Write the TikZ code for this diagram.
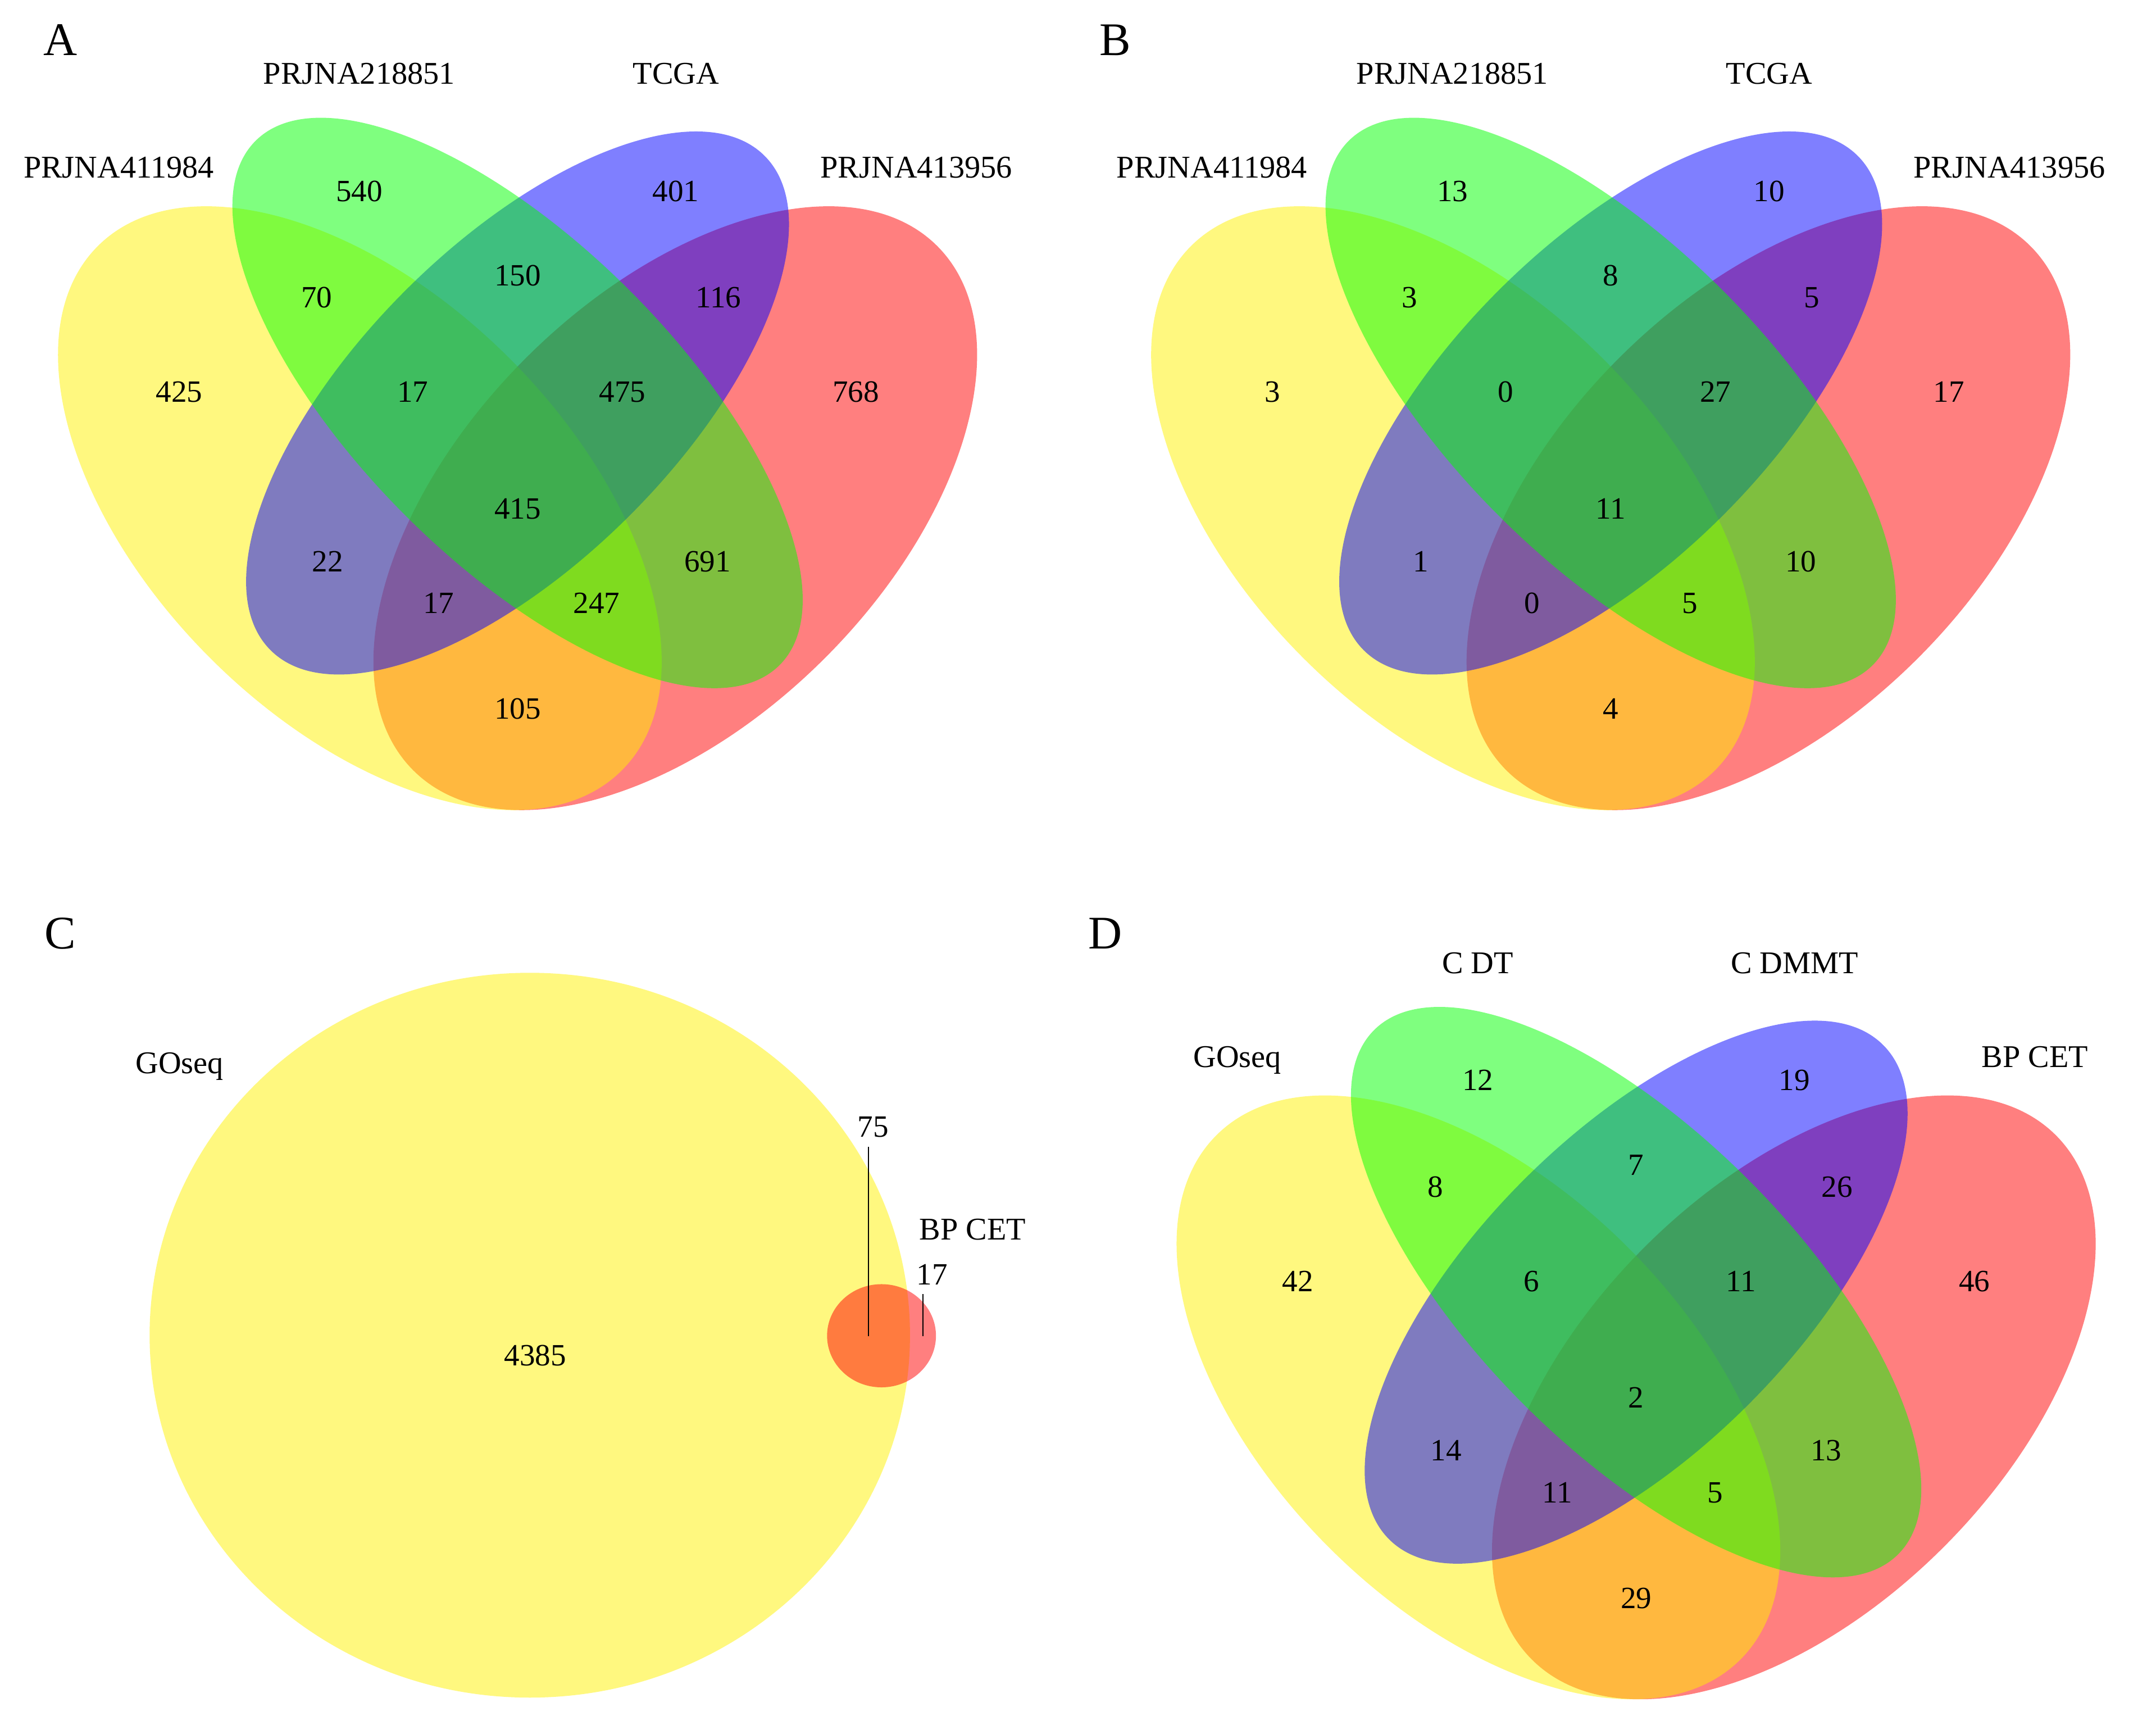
\documentclass[tikz,border=0pt]{standalone}
\usepackage{fontspec}
\setmainfont{Liberation Serif}
\tikzset{
  num/.style={font=\fontsize{22.5}{27}\selectfont, inner sep=0pt, text height=15.2pt, text depth=0pt},
  cat/.style={font=\fontsize{23}{28}\selectfont, inner sep=0pt, text height=15.2pt, text depth=0pt},
  panel/.style={font=\fontsize{34}{40}\selectfont, inner sep=0pt, text height=22.5pt, text depth=0pt},
  vset/.style={fill=#1, fill opacity=0.5},
  tick/.style={draw=black, line width=0.8pt}
}
% four-set Venn shapes (drawing order: red, yellow, blue, green)
\newcommand\quadshapes{%
  \fill[vset=red, rotate around={45:(491.1,-369.5)}] (491.1,-369.5) ellipse [x radius=269.5, y radius=154];
  \fill[vset=yellow, rotate around={-45:(261.7,-369.5)}] (261.7,-369.5) ellipse [x radius=269.5, y radius=154];
  \fill[vset=blue, rotate around={45:(376.4,-293)}] (376.4,-293) ellipse [x radius=254.1, y radius=115.5];
  \fill[vset=green, rotate around={-45:(376.4,-293)}] (376.4,-293) ellipse [x radius=269.5, y radius=115.5];
}
% #1 prefix, then 15 region counts, then 4 category names
\newcommand\quadnums[9]{%
  \node[num] (#1n1) at (261.3,-138.7) {#2};
  \node[num] (#1n2) at (491.5,-138.7) {#3};
  \node[num] (#1n3) at (230.3,-216.1) {#4};
  \node[num] (#1n4) at (376.4,-200.3) {#5};
  \node[num] (#1n5) at (522.5,-216.1) {#6};
  \node[num] (#1n6) at (130.4,-284.8) {#7};
  \node[num] (#1n7) at (300.2,-284.8) {#8};
  \node[num] (#1n8) at (452.6,-284.8) {#9};
}
\newcommand\quadnumsb[8]{%
  \node[num] (#1n9) at (622.4,-284.8) {#2};
  \node[num] (#1n10) at (376.4,-369.5) {#3};
  \node[num] (#1n11) at (238.3,-407.9) {#4};
  \node[num] (#1n12) at (514.6,-407.9) {#5};
  \node[num] (#1n13) at (319.0,-438.5) {#6};
  \node[num] (#1n14) at (433.9,-438.5) {#7};
  \node[num] (#1n15) at (376.4,-515.2) {#8};
}
\newcommand\quadcats[5]{%
  \node[cat] (#1c1) at (86.4,-121.8) {#2};
  \node[cat] (#1c2) at (261.2,-53.5) {#3};
  \node[cat] (#1c3) at (491.6,-53.5) {#4};
  \node[cat] (#1c4) at (666.4,-121.8) {#5};
}
\begin{document}
\begin{tikzpicture}[x=1pt,y=1pt]
\fill[white] (0,0) rectangle (1568,-1254);
\useasboundingbox (0,0) rectangle (1568,-1254);

% ---------- Panel A ----------
\begin{scope}
  \quadshapes
  \quadnums{A}{540}{401}{70}{150}{116}{425}{17}{475}
  \quadnumsb{A}{768}{415}{22}{691}{17}{247}{105}
  \quadcats{A}{PRJNA411984}{PRJNA218851}{TCGA}{PRJNA413956}
\end{scope}
\node[panel] (LA) at (43.8,-29) {A};

% ---------- Panel B ----------
\begin{scope}[shift={(795,0)}]
  \quadshapes
  \quadnums{B}{13}{10}{3}{8}{5}{3}{0}{27}
  \quadnumsb{B}{17}{11}{1}{10}{0}{5}{4}
  \quadcats{B}{PRJNA411984}{PRJNA218851}{TCGA}{PRJNA413956}
\end{scope}
\node[panel] (LB) at (811,-29) {B};

% ---------- Panel D ----------
\begin{scope}[shift={(813.5,-646.5)}]
  \quadshapes
  \quadnums{D}{12}{19}{8}{7}{26}{42}{6}{11}
  \quadnumsb{D}{46}{2}{14}{13}{11}{5}{29}
  \quadcats{D}{GOseq}{C DT}{C DMMT}{BP CET}
\end{scope}
\node[panel] (LD) at (804,-678.4) {D};

% ---------- Panel C ----------
\fill[vset=yellow] (385.3,-970.8) ellipse [x radius=276.5, y radius=263.5];
\fill[vset=red] (641.1,-971.2) ellipse [x radius=39.6, y radius=37.5];
\node[panel] (LC) at (43.9,-678.4) {C};
\node[cat] (Cgo) at (130.6,-772.8) {GOseq};
\node[cat] (Cbp) at (707.4,-893.9) {BP CET};
\node[num] (Cn1) at (389.2,-985.4) {4385};
\node[num] (Cn2) at (635,-819) {75};
\node[num] (Cn3) at (677.8,-926.6) {17};
\coordinate (t75a) at (631.6,-833.8);
\coordinate (t75b) at (631.6,-971.7);
\coordinate (t17a) at (671.3,-941);
\coordinate (t17b) at (671.3,-971.7);
\draw[tick] (t75a) -- (t75b);
\draw[tick] (t17a) -- (t17b);
\end{tikzpicture}
\end{document}
